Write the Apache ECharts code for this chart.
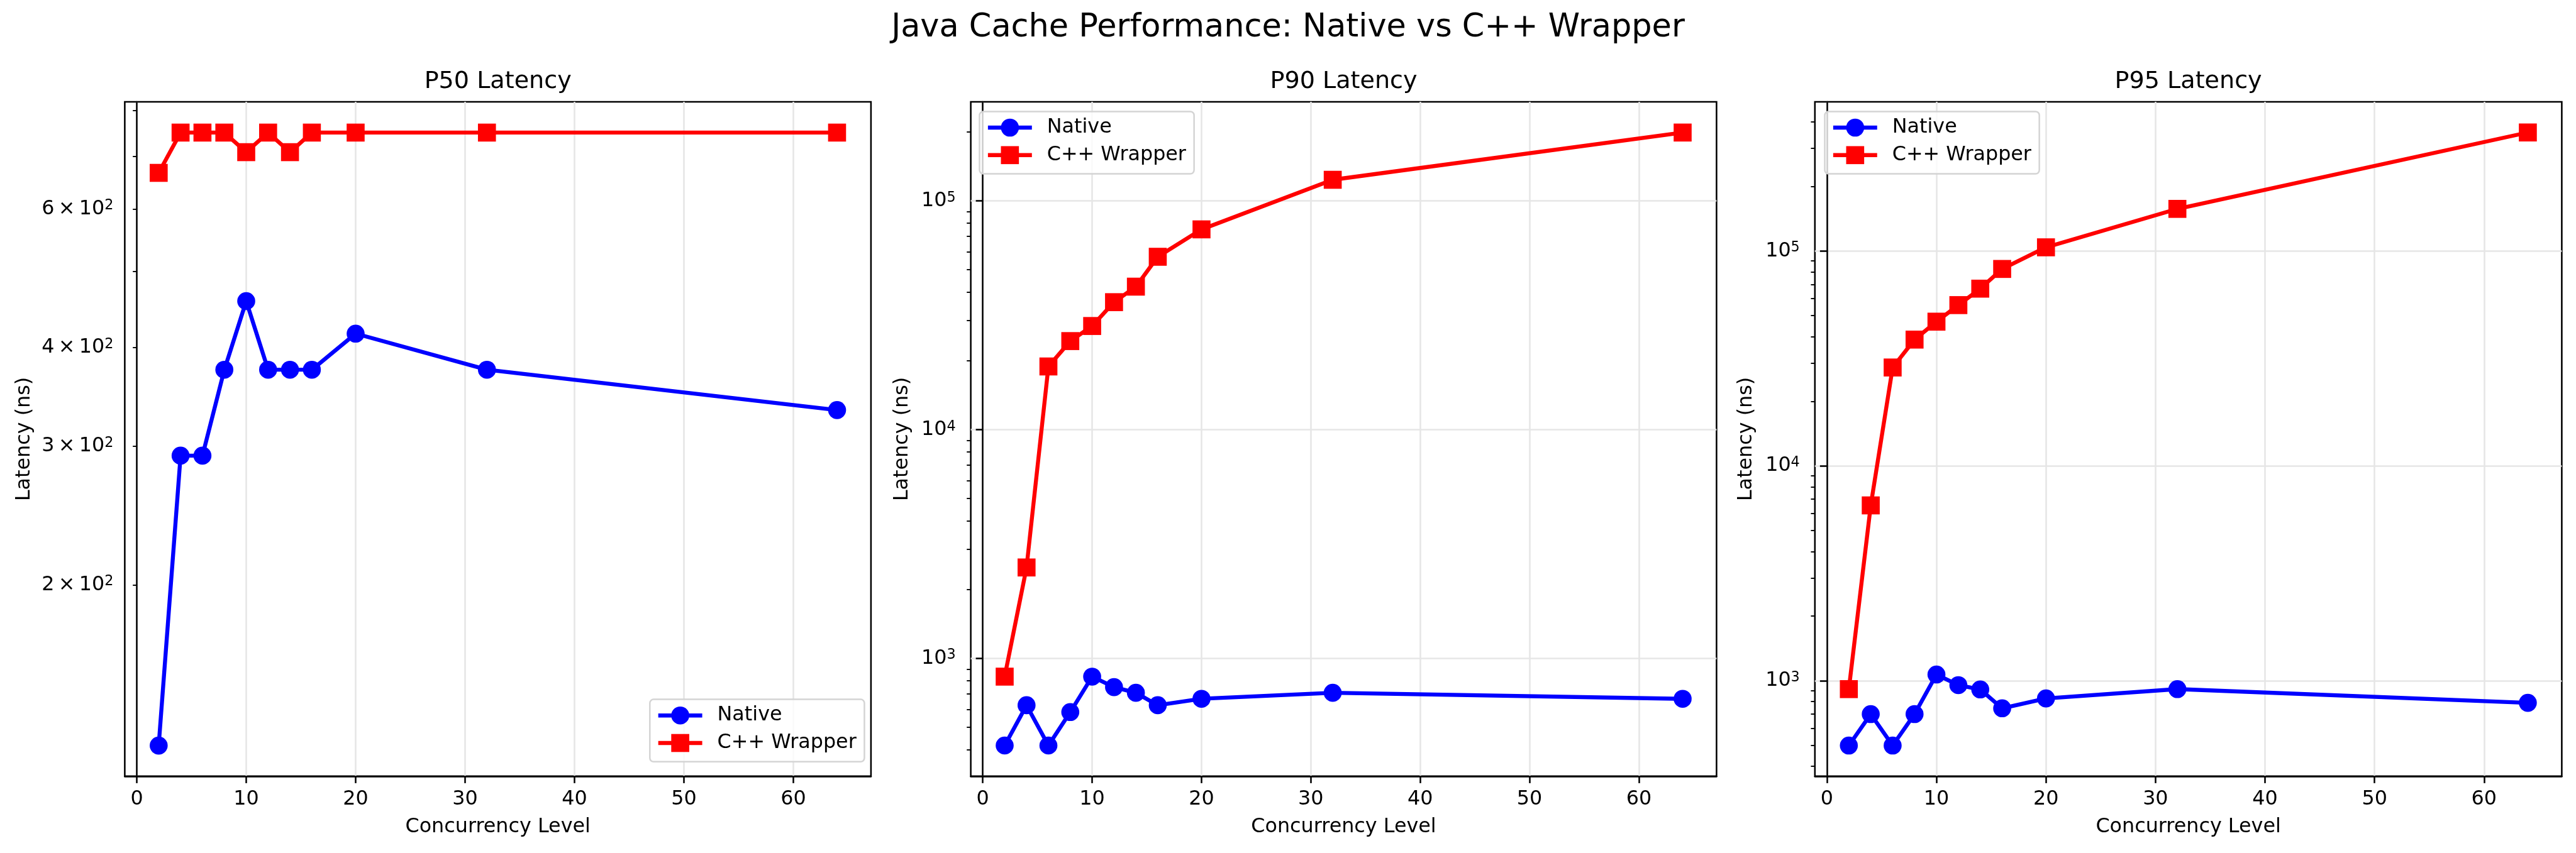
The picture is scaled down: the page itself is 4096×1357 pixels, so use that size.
<!DOCTYPE html>
<html>
<head>
<meta charset="utf-8">
<script src="https://cdn.jsdelivr.net/npm/echarts@6/dist/echarts.min.js"></script>
<style>
html,body{margin:0;padding:0;background:#fff;}
#chart{width:4096px;height:1357px;}
</style>
</head>
<body>
<div id="chart"></div>
<script>
// ---- data ----
const concurrency = [2, 4, 6, 8, 10, 12, 14, 16, 20, 32, 64];
const p50Native = [125, 291.7, 291.7, 375, 458.3, 375, 375, 375, 416.7, 375, 333.3];
const p50Cpp = [666.7, 750, 750, 750, 708.3, 750, 708.3, 750, 750, 750, 750];
const p90Native = [416.7, 625, 416.7, 583.3, 833.3, 750, 708.3, 625, 666.7, 708.3, 666.7];
const p90Cpp = [833.3, 2500, 18900, 24400, 28400, 36100, 42200, 57000, 75100, 123700, 199000];
const p95Native = [500, 700, 500, 700, 1070, 955, 912, 745, 828, 915, 790];
const p95Cpp = [915, 6550, 28700, 38700, 46900, 56000, 66800, 82500, 104000, 157000, 356000];

const xTickValues = [0, 10, 20, 30, 40, 50, 60];
const p50TickValues = [200, 300, 400, 500, 600, 700, 800];
const p50LabelValues = [200, 300, 400, 600];
const p90MajorTicks = [1000, 10000, 100000];
const p90MinorTicks = [400, 500, 600, 700, 800, 900, 2000, 3000, 4000, 5000, 6000, 7000, 8000, 9000,
  20000, 30000, 40000, 50000, 60000, 70000, 80000, 90000, 200000];
const p95MajorTicks = [1000, 10000, 100000];
const p95MinorTicks = [400, 500, 600, 700, 800, 900, 2000, 3000, 4000, 5000, 6000, 7000, 8000, 9000,
  20000, 30000, 40000, 50000, 60000, 70000, 80000, 90000, 200000, 300000, 400000];

const seriesNames = ['Native', 'C++ Wrapper'];
const panelTitles = ['P50 Latency', 'P90 Latency', 'P95 Latency'];
const mainTitle = 'Java Cache Performance: Native vs C++ Wrapper';
const xName = 'Concurrency Level';
const yName = 'Latency (ns)';

// ---- styling ----
const FONT = 'DejaVu Sans';
const FS = 31.8;
const LINE_W = 2.54;
const BLUE = '#0000ff', RED = '#ff0000';

const grids = [
  {left: 198.4, top: 162.1, width: 1186.5, height: 1072.7},
  {left: 1543.6, top: 162.1, width: 1185.8, height: 1072.7},
  {left: 2885.8, top: 162.1, width: 1187.6, height: 1072.7}
];

function sciLabel(v) {
  const e = Math.floor(Math.log10(v) + 1e-9);
  const m = Math.round(v / Math.pow(10, e));
  return (m === 1 ? '{b|10}' : '{b|' + m + '\u2009\u00d7\u200910}') + '{s|' + e + '}';
}
const richLabel = {
  b: {fontSize: FS, lineHeight: FS, fontFamily: FONT, color: '#000'},
  s: {fontSize: 22.3, lineHeight: 14, verticalAlign: 'top', fontFamily: FONT, color: '#000'}
};

function xAxisFor(i) {
  return {
    type: 'value', gridIndex: i, min: -1.1, max: 67.1, position: 'bottom',
    axisLine: {show: true, onZero: false, lineStyle: {color: '#000', width: LINE_W}},
    axisTick: {show: true, customValues: xTickValues, length: 11.1, lineStyle: {color: '#000', width: LINE_W}},
    axisLabel: {show: true, customValues: xTickValues, margin: 20.5, fontSize: FS, color: '#000', fontFamily: FONT},
    splitLine: {show: true, lineStyle: {color: '#e6e6e6', width: LINE_W}},
    name: xName, nameLocation: 'middle', nameGap: 65,
    nameTextStyle: {fontSize: FS, lineHeight: FS, color: '#000', fontFamily: FONT}
  };
}

function mainY(i, min, max, ticks, labels, tickLen, margin, gap, grid) {
  return {
    type: 'log', logBase: 10, gridIndex: i, position: 'left', min: min, max: max,
    axisLine: {show: true, lineStyle: {color: '#000', width: LINE_W}},
    axisTick: {show: true, customValues: ticks, length: tickLen,
      lineStyle: {color: '#000', width: tickLen > 8 ? LINE_W : 1.9}},
    axisLabel: {show: true, customValues: labels, margin: margin, formatter: sciLabel, rich: richLabel,
      fontSize: FS, color: '#000', fontFamily: FONT},
    splitLine: {show: grid, lineStyle: {color: '#e6e6e6', width: LINE_W}},
    minorTick: {show: false}, minorSplitLine: {show: false},
    name: yName, nameLocation: 'middle', nameGap: gap, nameRotate: 90,
    nameTextStyle: {fontSize: FS, lineHeight: FS, color: '#000', fontFamily: FONT}
  };
}
function minorY(i, min, max, ticks) {
  return {
    type: 'log', logBase: 10, gridIndex: i, position: 'left', offset: 0, min: min, max: max,
    axisLine: {show: false},
    axisTick: {show: true, customValues: ticks, length: 6.36, lineStyle: {color: '#000', width: 1.9}},
    axisLabel: {show: false},
    splitLine: {show: false}
  };
}

const yAxes = [
  mainY(0, 114.3, 820.4, p50TickValues, p50LabelValues, 6.36, 18, 144, false),
  mainY(1, 306, 270900, p90MajorTicks, p90MajorTicks, 11.1, 24, 93, true),
  minorY(1, 306, 270900, p90MinorTicks),
  mainY(2, 360, 494000, p95MajorTicks, p95MajorTicks, 11.1, 24, 93, true),
  minorY(2, 360, 494000, p95MinorTicks)
];

function pairs(ys) { return concurrency.map((x, k) => [x, ys[k]]); }
function lineSeries(name, color, symbol, xi, yi, ys) {
  return {
    type: 'line', name: name, xAxisIndex: xi, yAxisIndex: yi, data: pairs(ys),
    symbol: symbol, symbolSize: 28.6, showSymbol: true,
    lineStyle: {color: color, width: 6.36},
    itemStyle: {color: color, borderWidth: 0},
    emphasis: {disabled: true}, z: 3
  };
}
const series = [
  lineSeries(seriesNames[0], BLUE, 'circle', 0, 0, p50Native),
  lineSeries(seriesNames[1], RED, 'rect', 0, 0, p50Cpp),
  lineSeries(seriesNames[0], BLUE, 'circle', 1, 1, p90Native),
  lineSeries(seriesNames[1], RED, 'rect', 1, 1, p90Cpp),
  lineSeries(seriesNames[0], BLUE, 'circle', 2, 3, p95Native),
  lineSeries(seriesNames[1], RED, 'rect', 2, 3, p95Cpp)
];

function legendAt(left, top) {
  return {
    data: seriesNames, orient: 'vertical', left: left, top: top,
    itemWidth: 69.9, itemHeight: 35.8, itemGap: 11.8,
    padding: [9.6, 12.7, 13.8, 10.2],
    backgroundColor: 'rgba(255,255,255,0.8)', borderColor: '#d4d4d4', borderWidth: 2.5, borderRadius: 6,
    lineStyle: {width: 6.36},
    itemStyle: {borderWidth: 0},
    textStyle: {fontSize: FS, color: '#000', fontFamily: FONT, padding: [0, 0, 0, 19]},
    selectedMode: false, z: 10
  };
}

const titleCenters = grids.map(g => g.left + g.width / 2);
const option = {
  animation: false,
  backgroundColor: '#fff',
  textStyle: {fontFamily: FONT},
  title: [
    {text: mainTitle, left: 2048, textAlign: 'center', top: 19.5, padding: 0,
     textStyle: {fontSize: 50.9, lineHeight: 50.9, fontWeight: 'normal', color: '#000', fontFamily: FONT}}
  ].concat(panelTitles.map((t, i) => ({
    text: t, left: titleCenters[i], textAlign: 'center', top: 111.4, padding: 0,
    textStyle: {fontSize: 38.1, lineHeight: 38.1, fontWeight: 'normal', color: '#000', fontFamily: FONT}
  }))),
  grid: grids.map(g => Object.assign({show: true, borderColor: '#000', borderWidth: LINE_W,
    backgroundColor: 'transparent', containLabel: false}, g)),
  xAxis: [xAxisFor(0), xAxisFor(1), xAxisFor(2)],
  yAxis: yAxes,
  legend: [legendAt(1033.3, 1112.6), legendAt(1557.5, 177.4), legendAt(2901.5, 177.4)],
  series: series
};

const chart = echarts.init(document.getElementById('chart'), null, {renderer: 'canvas', width: 4096, height: 1357});
chart.setOption(option);
</script>
</body>
</html>
